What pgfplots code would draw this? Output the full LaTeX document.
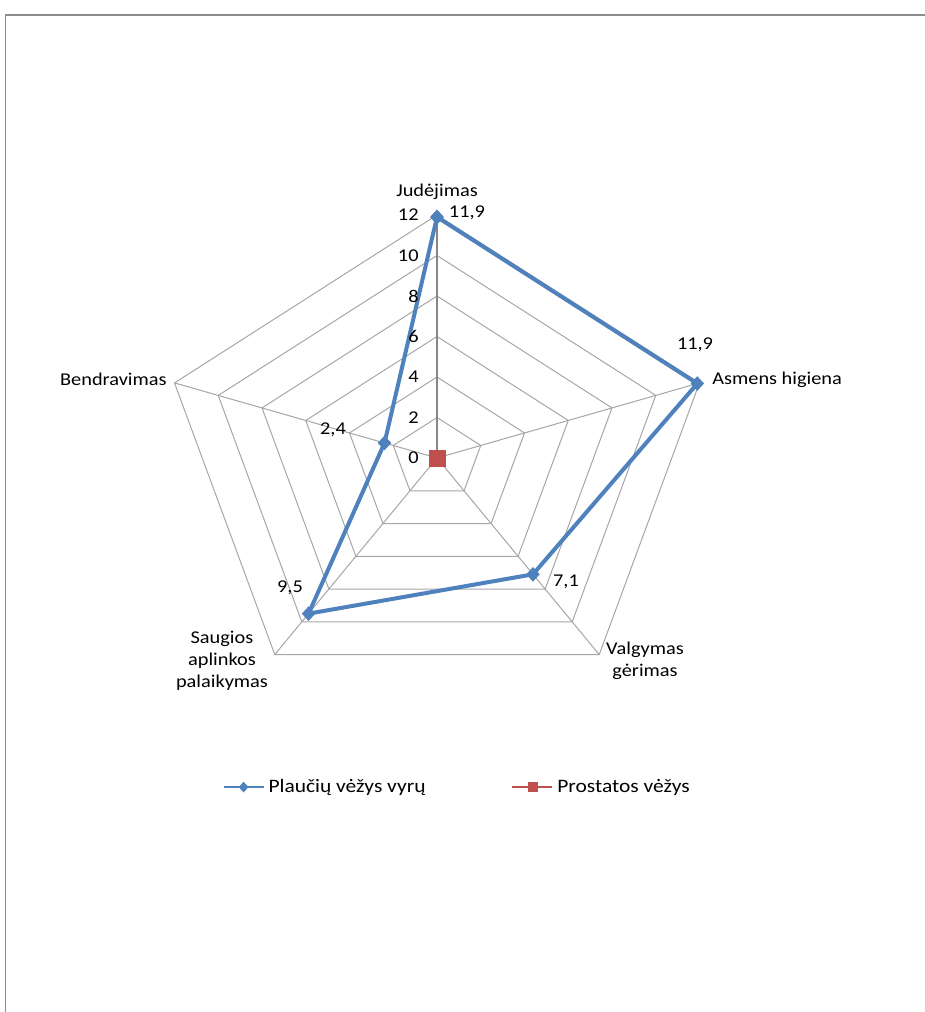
\documentclass[border=0pt]{standalone}
\usepackage{fontspec}
\setmainfont{Carlito}[FakeStretch=1.13]
\usepackage{pgfplots}
\pgfplotsset{compat=1.18}
\usepgfplotslibrary{polar}
\definecolor{serA}{HTML}{4F81BD}
\definecolor{serB}{HTML}{C0504D}
\definecolor{gridc}{HTML}{A6A6A6}
\definecolor{axc}{HTML}{868686}
\definecolor{framec}{HTML}{8C8C8C}
\begin{document}
\begin{tikzpicture}[font=\fontsize{9}{11}\selectfont]
\useasboundingbox (-218.5pt,-277pt) rectangle (244pt,229pt);
\draw[framec, line width=0.8pt] (300pt,221.5pt) -- (-215.75pt,221.5pt) -- (-215.75pt,-320pt);
\begin{axis}[
  at={(0pt,0pt)}, anchor=center,
  x=11.5pt, y=10.125pt,
  xmin=-14, xmax=14, ymin=-14, ymax=14,
  hide axis, clip=false,
  legend columns=2,
  legend style={draw=none, fill=none, at={(0.533,-0.0804)}, anchor=center,
    font=\fontsize{9.5}{11}\selectfont,
    /tikz/every even column/.append style={column sep=41pt}},
  legend image code/.code={
    \draw[#1, line width=0.9pt] (0pt,0pt) -- (20pt,0pt);
    \draw[#1, line width=0.5pt, mark size=2.3pt] plot coordinates {(10pt,0pt)};
  },
]
% grid pentagons
\addplot[gridc, line width=0.5pt, forget plot, data cs=polar] coordinates {(90,2) (18,2) (-54,2) (-126,2) (162,2) (90,2)};
\addplot[gridc, line width=0.5pt, forget plot, data cs=polar] coordinates {(90,4) (18,4) (-54,4) (-126,4) (162,4) (90,4)};
\addplot[gridc, line width=0.5pt, forget plot, data cs=polar] coordinates {(90,6) (18,6) (-54,6) (-126,6) (162,6) (90,6)};
\addplot[gridc, line width=0.5pt, forget plot, data cs=polar] coordinates {(90,8) (18,8) (-54,8) (-126,8) (162,8) (90,8)};
\addplot[gridc, line width=0.5pt, forget plot, data cs=polar] coordinates {(90,10) (18,10) (-54,10) (-126,10) (162,10) (90,10)};
\addplot[gridc, line width=0.5pt, forget plot, data cs=polar] coordinates {(90,12) (18,12) (-54,12) (-126,12) (162,12) (90,12)};
% spokes
\addplot[gridc, line width=0.5pt, forget plot, data cs=polar] coordinates {(18,0) (18,12)};
\addplot[gridc, line width=0.5pt, forget plot, data cs=polar] coordinates {(-54,0) (-54,12)};
\addplot[gridc, line width=0.5pt, forget plot, data cs=polar] coordinates {(-126,0) (-126,12)};
\addplot[gridc, line width=0.5pt, forget plot, data cs=polar] coordinates {(162,0) (162,12)};
\addplot[axc, line width=0.6pt, forget plot, data cs=polar] coordinates {(90,0) (90,12)};
% series
\addplot[serA, line width=2pt, mark=diamond*, mark size=3.3pt,
  mark options={solid, line width=0.5pt, xscale=1.22}, data cs=polar]
  coordinates {(90,11.9) (18,11.9) (-54,7.1) (-126,9.5) (162,2.4) (90,11.9)};
\addlegendentry{Plaučių vėžys vyrų}
\addplot[serB, line width=2pt, mark=square*, mark size=3.9pt,
  mark options={solid, line width=0.3pt}, data cs=polar]
  coordinates {(90,0) (18,0) (-54,0) (-126,0) (162,0) (90,0)};
\addlegendentry{Prostatos vėžys}
\end{axis}
% tick labels
\foreach \r in {0,2,4,6,8,10,12} {
  \node[anchor=east, inner sep=0pt] at (-9pt,{\r*10.125pt}) {\r};
}
% category labels
\node at (0pt,133pt) {Judėjimas};
\node[anchor=west, inner sep=0pt] at (137.5pt,39pt) {Asmens higiena};
\node[align=center, inner sep=0pt] at (104pt,-101.5pt) {Valgymas\\gėrimas};
\node[align=center, inner sep=0pt] at (-107.5pt,-101.5pt) {Saugios\\aplinkos\\palaikymas};
\node[anchor=east, inner sep=0pt] at (-135pt,39.5pt) {Bendravimas};
% data labels
\node at (15pt,122.5pt) {11,9};
\node at (129pt,56.5pt) {11,9};
\node at (64.5pt,-62pt) {7,1};
\node at (-73.5pt,-65pt) {9,5};
\node at (-52pt,14pt) {2,4};
\end{tikzpicture}
\end{document}
